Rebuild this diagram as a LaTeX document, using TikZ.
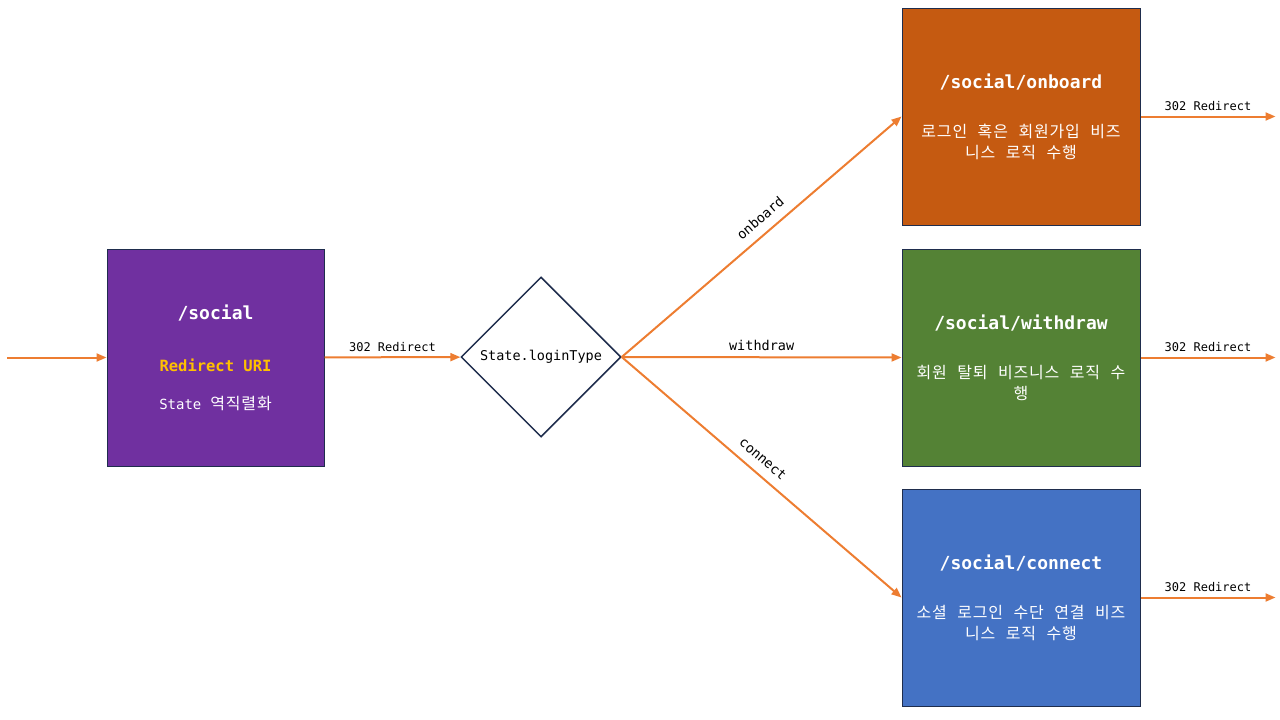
\documentclass[tikz,border=0pt]{standalone}
\usepackage{fontspec}
\setmainfont{DejaVu Sans Mono}
\newfontfamily\kr[LetterSpace=5,WordSpace=2.4]{Noto Sans CJK KR}
\usetikzlibrary{positioning,shapes.geometric}
\usetikzlibrary{arrows.meta}
\definecolor{navy}{HTML}{1F2D4D}
\definecolor{flowor}{HTML}{ED7D31}
\definecolor{purp}{HTML}{7030A0}
\definecolor{rust}{HTML}{C55A11}
\definecolor{leaf}{HTML}{548235}
\definecolor{sky}{HTML}{4472C4}
\definecolor{gold}{HTML}{FFC000}
\newcommand{\ttl}[1]{{\fontsize{18}{20}\bfseries #1}}
\newcommand{\krtxt}[1]{{\fontsize{16}{21}\kr #1}}

\begin{document}
\begin{tikzpicture}[x=1pt,y=-1pt]
		\tikzset{
			pagebox/.style={draw=navy,line width=1pt,minimum width=238pt,minimum height=217pt,inner sep=0pt,text=white,align=center,font=\fontsize{15}{21}\selectfont},
			flow/.style={-{Triangle[length=10pt,width=8pt]},line width=2pt,flowor},
			lbl/.style={font=\fontsize{12}{14}\selectfont,text=black,inner sep=5pt},
			caselbl/.style={font=\fontsize{13.5}{16}\selectfont,text=black,inner sep=6pt},
		}
		\useasboundingbox (0,0) rectangle (1280,720);
		\node[pagebox,fill=purp,minimum width=217pt] (social) at (215.5,357.5)
			{\ttl{/social}\\[31pt]{\color{gold}\fontsize{15.5}{21}\bfseries Redirect URI}\\[17pt]{\fontsize{14}{21}\selectfont State} \krtxt{역직렬화}};
		\node[diamond,draw=navy,line width=1.5pt,minimum width=160pt,minimum height=160pt,inner sep=0pt,font=\fontsize{13.5}{16}\selectfont] (state) at (541,357) {State.loginType};
		\node[pagebox,fill=rust] (onboard) at (1021,116.5)
			{\ttl{/social/onboard}\\[28pt]\krtxt{로그인 혹은 회원가입 비즈}\\\krtxt{니스 로직 수행}};
		\node[pagebox,fill=leaf] (withdraw) at (1021,357.5)
			{\ttl{/social/withdraw}\\[28pt]\krtxt{회원 탈퇴 비즈니스 로직 수}\\\krtxt{행}};
		\node[pagebox,fill=sky] (connect) at (1021,597.5)
			{\ttl{/social/connect}\\[28pt]\krtxt{소셜 로그인 수단 연결 비즈}\\\krtxt{니스 로직 수행}};

		\coordinate (start) at (7,357.5);
		\draw[flow] (start) -- (social);
		\draw[flow] (social) -- node[lbl,above] {302 Redirect} (state);
		\draw[flow] (state.east) -- node[caselbl,above,sloped,pos=0.53,inner sep=9pt] {onboard} (onboard.west);
		\draw[flow] (state.east) -- node[caselbl,above] {withdraw} (withdraw.west);
		\draw[flow] (state.east) -- node[caselbl,above,sloped,pos=0.47,inner sep=9pt] {connect} (connect.west);
		\foreach \n in {onboard,withdraw,connect}{
				\coordinate (\n-out) at ([xshift=135pt]\n.east);
				\draw[flow] (\n) -- node[lbl,above] {302 Redirect} (\n-out);
			}
	\end{tikzpicture}
\end{document}
